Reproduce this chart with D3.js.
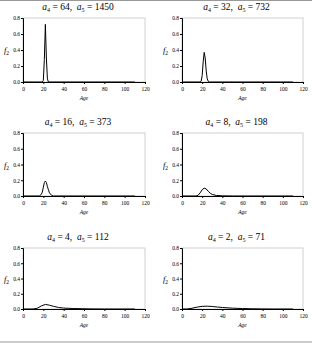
<!DOCTYPE html>
<html>
<head>
<meta charset="utf-8">
<script src="https://cdn.jsdelivr.net/npm/d3@7"></script>
<style>
  body { margin: 0; background: #fff; }
  svg { display: block; font-family: "Liberation Serif", "Times New Roman", serif; }
</style>
</head>
<body>
<svg id="chart" width="312" height="344"></svg>
<script>
// panel parameters (titles)
let a4Values = [64, 32, 16, 8, 4, 2];
let a5Values = [1450, 732, 373, 198, 112, 71];

// axis ticks
let xTicks = [0, 20, 40, 60, 80, 100, 120];
let yTicks = [0.0, 0.2, 0.4, 0.6, 0.8];

// curves: ages and f2 values per panel
let ages1 = [0, 19, 20, 21, 22, 23, 24, 25, 110];
let vals1 = [0, 0, 0.02, 0.28, 0.72, 0.30, 0.04, 0, 0];

let ages2 = [0, 18, 19, 20, 21, 22, 23, 24, 25, 26, 27, 110];
let vals2 = [0, 0, 0.01, 0.08, 0.25, 0.37, 0.30, 0.14, 0.04, 0.01, 0, 0];

let ages3 = [0, 16, 18, 19, 20, 21, 22, 23, 24, 25, 26, 28, 30, 110];
let vals3 = [0, 0, 0.02, 0.05, 0.11, 0.17, 0.19, 0.17, 0.12, 0.08, 0.04, 0.01, 0, 0];

let ages4 = [0, 14, 16, 18, 20, 22, 24, 26, 28, 30, 34, 40, 50, 110];
let vals4 = [0, 0, 0.01, 0.04, 0.08, 0.10, 0.09, 0.06, 0.035, 0.02, 0.007, 0.002, 0, 0];

let ages5 = [0, 10, 14, 18, 22, 26, 30, 35, 40, 50, 60, 70, 80, 110];
let vals5 = [0, 0, 0.01, 0.04, 0.06, 0.05, 0.035, 0.02, 0.012, 0.006, 0.003, 0.001, 0, 0];

let ages6 = [0, 5, 10, 15, 20, 25, 30, 35, 40, 50, 60, 70, 80, 90, 110];
let vals6 = [0, 0, 0.01, 0.025, 0.035, 0.037, 0.033, 0.026, 0.02, 0.011, 0.006, 0.003, 0.001, 0, 0];

let allAges = [ages1, ages2, ages3, ages4, ages5, ages6];
let allVals = [vals1, vals2, vals3, vals4, vals5, vals6];

let svg = d3.select("#chart");

// frame lines of the figure
svg.append("line").attr("x1", 0).attr("x2", 312).attr("y1", 0.5).attr("y2", 0.5)
    .attr("stroke", "#999").attr("stroke-width", 1);
svg.append("line").attr("x1", 0).attr("x2", 312).attr("y1", 342).attr("y2", 342)
    .attr("stroke", "#ccc").attr("stroke-width", 2);

let colLeft = [23, 182];      // plot left edge per column
let colWidth = [122, 121];
let rowTop = [18, 133, 248];  // plot top per row
let rowHeight = [64, 63, 61];

for (let p = 0; p < 6; p++)
{
    let col = p % 2;
    let row = Math.floor(p / 2);
    let left = colLeft[col];
    let top = rowTop[row];
    let width = colWidth[col];
    let height = rowHeight[row];

    let xScale = d3.scaleLinear().domain([0, 120]).range([0, width]);
    let yScale = d3.scaleLinear().domain([0, 0.8]).range([height, 0]);

    let g = svg.append("g")
        .attr("transform", "translate(" + left + "," + top + ")");

    // light plot-area border (top/right)
    g.append("rect")
        .attr("x", 0).attr("y", 0)
        .attr("width", width).attr("height", height)
        .attr("fill", "none")
        .attr("stroke", "#d0d0d0")
        .attr("stroke-width", 1);

    let xAxis = d3.axisBottom(xScale).tickValues(xTicks).tickSize(2).tickFormat(d3.format("d"));
    let yAxis = d3.axisLeft(yScale).tickValues(yTicks).tickSize(2).tickFormat(d3.format(".1f"));

    let gx = g.append("g")
        .attr("transform", "translate(0," + height + ")")
        .call(xAxis);
    let gy = g.append("g").call(yAxis);

    [gx, gy].forEach(function(a) {
        a.select(".domain").attr("stroke", "#000").attr("stroke-width", 1);
        a.selectAll(".tick line").attr("stroke", "#000");
        a.selectAll("text")
            .attr("font-family", "Liberation Serif, serif")
            .attr("font-size", 5.5)
            .attr("fill", "#000");
    });
    gx.selectAll("text").attr("dy", "0.71em").attr("y", 5);
    gy.selectAll("text").attr("x", -3);

    // curve
    let pts = allAges[p].map(function(a, i) { return { x: a, y: allVals[p][i] }; });
    let line = d3.line()
        .x(function(d) { return xScale(d.x); })
        .y(function(d) { return yScale(d.y); });
    g.append("path")
        .datum(pts)
        .attr("d", line)
        .attr("fill", "none")
        .attr("stroke", "#000")
        .attr("stroke-width", 1);

    // title
    let title = g.append("text")
        .attr("x", width / 2 - 6)
        .attr("y", -8)
        .attr("text-anchor", "middle")
        .attr("font-size", 9.5)
        .attr("fill", "#000");
    title.append("tspan").attr("font-style", "italic").text("a");
    title.append("tspan").attr("font-size", 6).attr("dy", 2).text("4");
    title.append("tspan").attr("dy", -2).text(" = " + a4Values[p] + ",\u00a0 ");
    title.append("tspan").attr("font-style", "italic").text("a");
    title.append("tspan").attr("font-size", 6).attr("dy", 2).text("5");
    title.append("tspan").attr("dy", -2).text(" = " + a5Values[p]);

    // y label
    let yl = g.append("text")
        .attr("x", -14)
        .attr("y", height / 2 + 3)
        .attr("text-anchor", "end")
        .attr("font-size", 8.5)
        .attr("fill", "#000");
    yl.append("tspan").attr("font-style", "italic").text("f");
    yl.append("tspan").attr("font-size", 5.5).attr("dy", 2).text("2");

    // x label
    g.append("text")
        .attr("x", width / 2)
        .attr("y", height + 18)
        .attr("text-anchor", "middle")
        .attr("font-size", 5.5)
        .attr("font-style", "italic")
        .attr("fill", "#000")
        .text("Age");
}
</script>
</body>
</html>
